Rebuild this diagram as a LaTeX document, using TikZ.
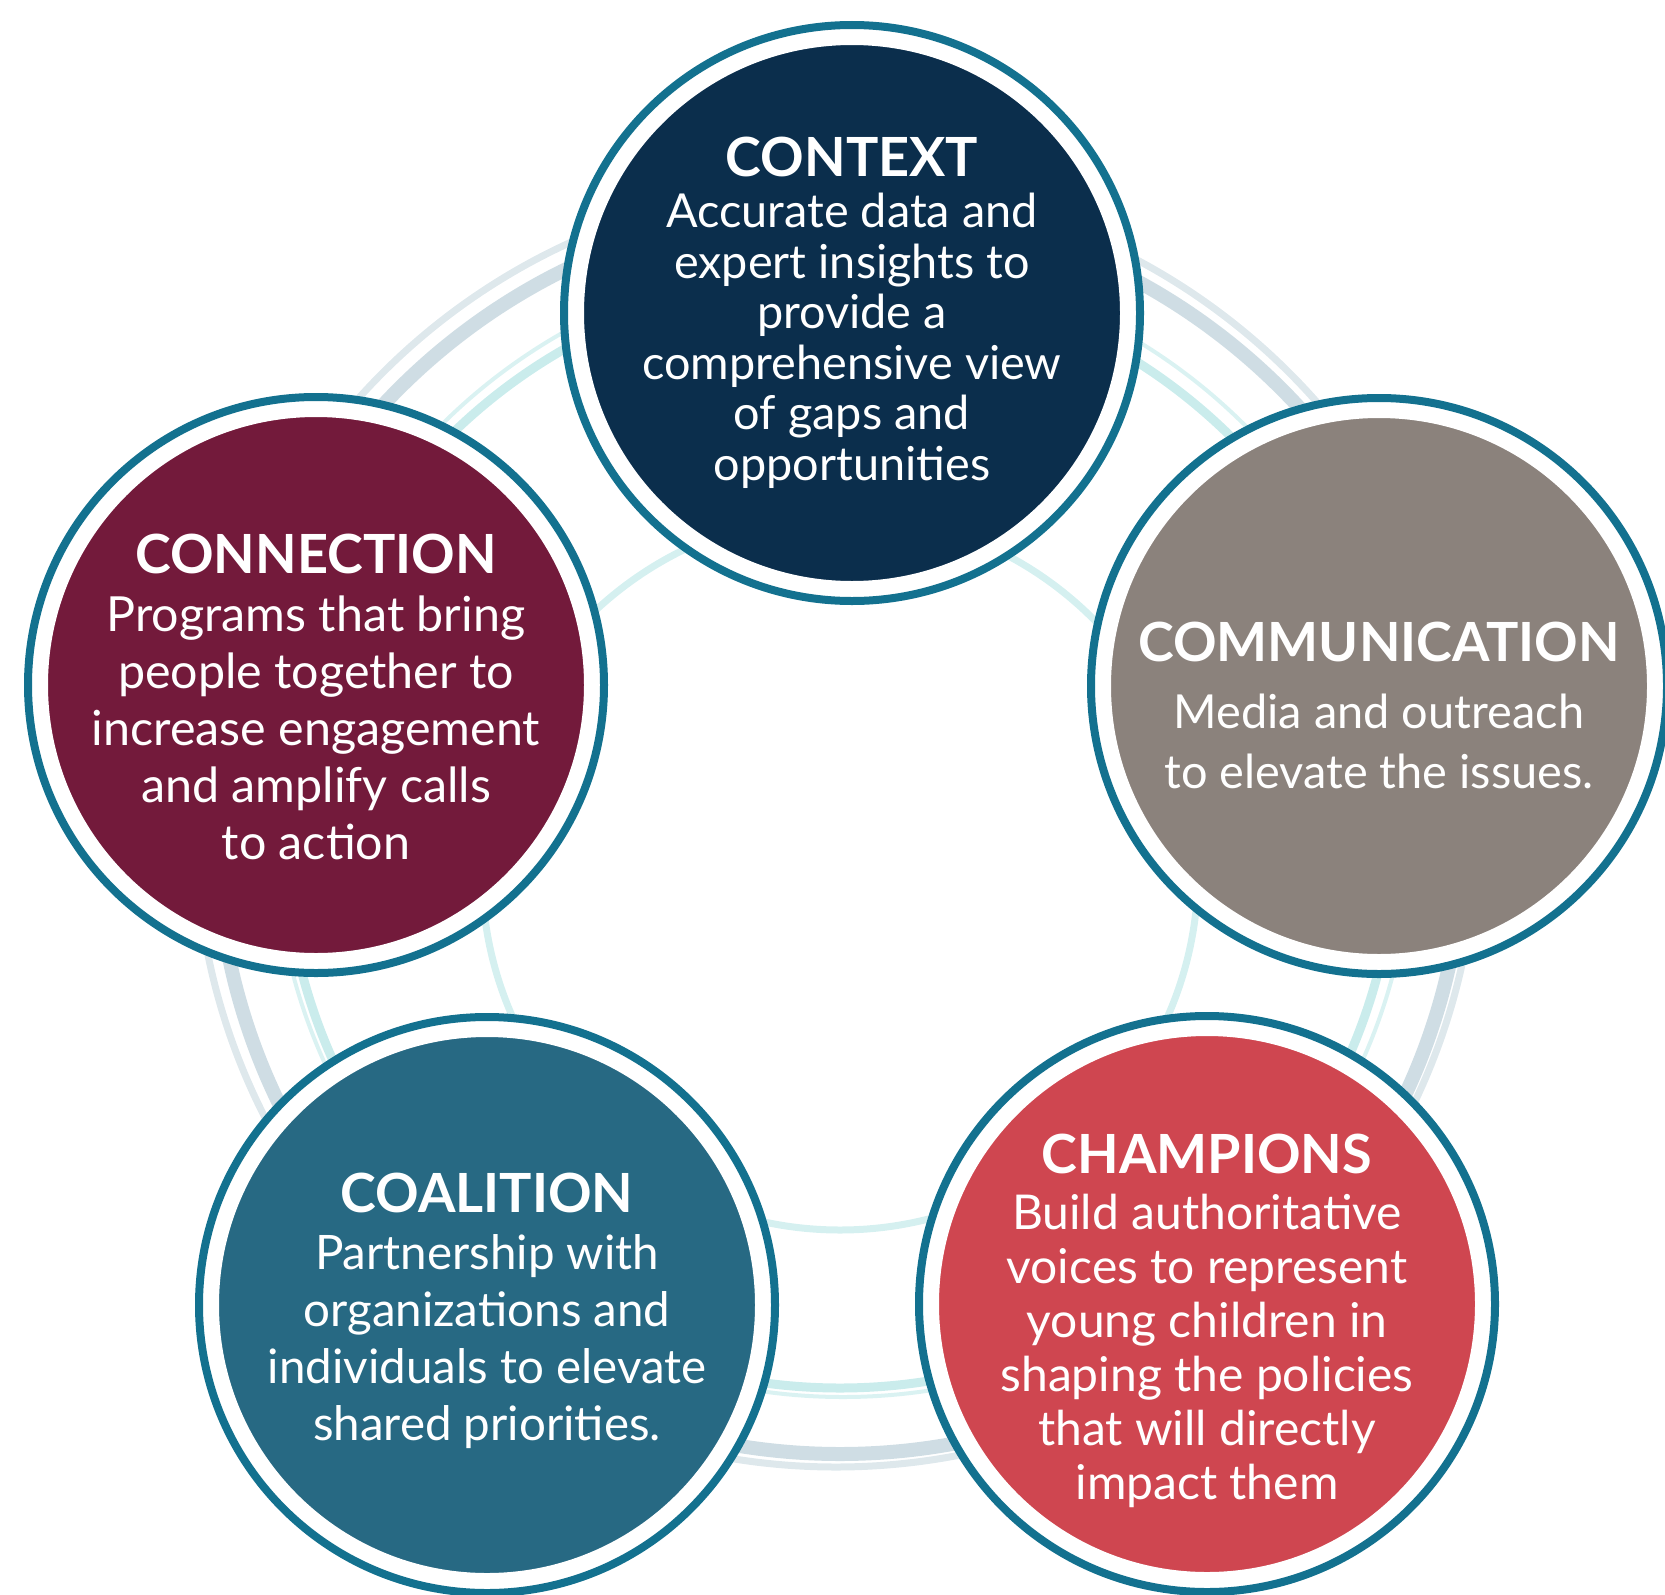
\documentclass[tikz,border=0pt]{standalone}
\usepackage{fontspec}
\setmainfont{Lato}
\usepackage{tikz}

\definecolor{rimblue}{RGB}{19,113,143}
\definecolor{contextblue}{RGB}{11,46,76}
\definecolor{connectionred}{RGB}{115,26,59}
\definecolor{communicationgray}{RGB}{139,130,124}
\definecolor{coalitionteal}{RGB}{39,105,131}
\definecolor{championsred}{RGB}{207,70,80}
\definecolor{washgray}{RGB}{160,188,201}
\definecolor{washcyan}{RGB}{150,218,218}

\tikzset{
  disc/.style={circle, fill=#1, draw=white, line width=16pt,
    minimum size=552pt, inner sep=0pt},
  rim/.style={draw=rimblue, line width=8pt},
  blurb/.style args={#1/#2}{text=white, align=center,
    font=\fontsize{#1}{#2}\selectfont},
  wash/.style={line width=#1, opacity=.5}
}
\newcommand{\heading}[1]{{\fontsize{54}{60}\selectfont\bfseries #1}}

\begin{document}
\begin{tikzpicture}[x=1pt,y=-1pt]
    \useasboundingbox (0,0) rectangle (1665,1595);
    % watercolour ring behind
    \draw[wash=14pt, washgray] (840,830) circle[radius=624pt];
    \draw[wash=7pt, washgray, opacity=.35] (836,826) circle[radius=641pt];
    \draw[wash=9pt, washcyan] (840,832) circle[radius=556pt];
    \draw[wash=4pt, washcyan, opacity=.35] (843,828) circle[radius=569pt];
    \draw[wash=7pt, washcyan, opacity=.4] (840,872) circle[radius=358pt];

    \node[disc=contextblue] (context) at (852,313) {};
    \node[disc=connectionred] (connection) at (316,685) {};
    \node[disc=communicationgray] (communication) at (1379,686) {};
    \node[disc=coalitionteal] (coalition) at (487,1305) {};
    \node[disc=championsred] (champions) at (1207,1304) {};
    \foreach \c in {context,connection,communication,coalition,champions}
      \draw[rim] (\c.center) circle[radius=288pt];

    \node[blurb=46.8/50.6] (context-text) at (context.center)
      {\heading{CONTEXT}\\ Accurate data and\\ expert insights to\\
       provide a\\ comprehensive view\\ of gaps and\\ opportunities};
    \node[blurb=48.4/57, yshift=-12pt] (connection-text) at (connection.center)
      {\heading{CONNECTION}\\[1pt] Programs that bring\\ people together to\\
       increase engagement\\ and amplify calls\\ to action};
    \node[blurb=46.9/60, yshift=-19pt] (communication-text) at (communication.center)
      {\heading{COMMUNICATION}\\[7pt] Media and outreach\\ to elevate the issues.};
    \node[blurb=47.5/57, yshift=-6pt] (coalition-text) at (coalition.center)
      {\heading{COALITION}\\ Partnership with\\ organizations and\\
       individuals to elevate\\ shared priorities.};
    \node[blurb=48/54, yshift=-17pt] (champions-text) at (champions.center)
      {\heading{CHAMPIONS}\\[2pt] Build authoritative\\ voices to represent\\
       young children in\\ shaping the policies\\ that will directly\\ impact them};
\end{tikzpicture}
\end{document}
